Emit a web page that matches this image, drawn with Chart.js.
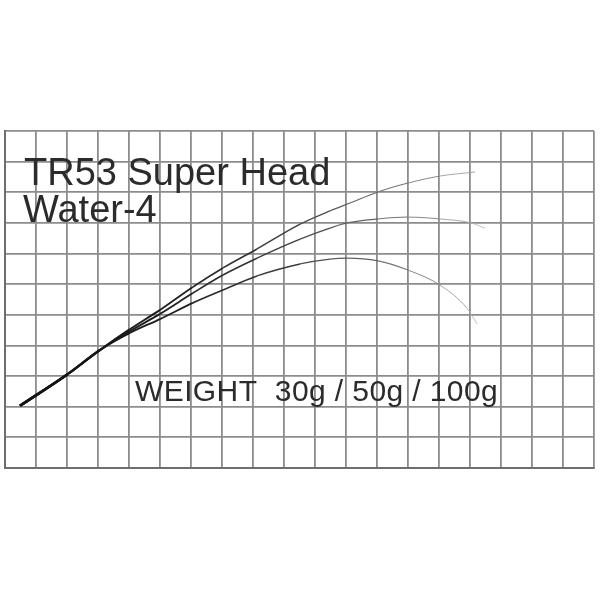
<!DOCTYPE html>
<html>
<head>
<meta charset="utf-8">
<script src="https://cdn.jsdelivr.net/npm/chart.js@4.4.1/dist/chart.umd.min.js"></script>
<style>
html,body{margin:0;padding:0;background:#fff;}
#wrap{width:600px;height:600px;}
</style>
</head>
<body>
<div id="wrap"><canvas id="c" width="600" height="600"></canvas></div>
<script>
// Grid units: 19 columns x 11 rows
const xTicks = [0,1,2,3,4,5,6,7,8,9,10,11,12,13,14,15,16,17,18,19];
const yTicks = [0,1,2,3,4,5,6,7,8,9,10,11];

const titleLines = ["TR53 Super Head", "Water-4"];
const weightLabel = "WEIGHT  30g / 50g / 100g";
const seriesNames = ["30g", "50g", "100g"];

const xs30  = [0.48, 2.03, 3.06, 4.03, 5.0, 6.06, 7.03, 8.13, 9.52, 10.48, 11.13, 12.03, 13.0, 14.03, 15.16];
const ys30  = [2.03, 3.07, 3.85, 4.53, 5.16, 5.91, 6.53, 7.15, 7.96, 8.39, 8.65, 9.01, 9.30, 9.53, 9.66];

const xs50  = [0.48, 2.03, 3.06, 4.03, 5.0, 6.06, 7.03, 8.13, 9.52, 10.48, 11.03, 12.03, 13.0, 14.03, 15.03, 15.48];
const ys50  = [2.03, 3.07, 3.85, 4.47, 5.03, 5.71, 6.30, 6.85, 7.47, 7.83, 8.0, 8.13, 8.19, 8.13, 8.0, 7.83];

const xs100 = [0.48, 2.03, 3.06, 4.03, 5.0, 6.06, 7.03, 8.13, 9.52, 10.48, 11.03, 12.03, 13.0, 14.03, 14.9, 15.23];
const ys100 = [2.03, 3.07, 3.85, 4.41, 4.86, 5.39, 5.81, 6.27, 6.66, 6.82, 6.85, 6.76, 6.46, 5.97, 5.22, 4.70];

function pts(xs, ys){ return xs.map((x,i)=>({x:x, y:ys[i]})); }

function segWidth(ctx){
  const t = Math.min(1, ctx.p0.parsed.x / 15);
  return 2.7 - 1.9 * Math.pow(t, 0.7);
}
function segColor(ctx){
  const t = Math.min(1, ctx.p0.parsed.x / 15.5);
  const v = Math.round(20 + 170 * Math.pow(t, 2.2));
  return `rgb(${v},${v},${v})`;
}

function ds(name, xs, ys){
  return {
    label: name,
    data: pts(xs, ys),
    borderColor: '#222',
    borderWidth: 1.5,
    pointRadius: 0,
    cubicInterpolationMode: 'monotone',
    fill: false,
    segment: { borderWidth: segWidth, borderColor: segColor }
  };
}

const textPlugin = {
  id: 'texts',
  afterDraw(chart){
    const c = chart.ctx;
    c.save();
    c.fillStyle = '#2b2b2b';
    c.textBaseline = 'alphabetic';
    c.textAlign = 'left';
    c.font = '38px "Liberation Sans", Arial, sans-serif';
    c.fillText(titleLines[0], 24, 185);
    c.fillText(titleLines[1], 23, 222);
    c.font = '30px "Liberation Sans", Arial, sans-serif';
    try { c.letterSpacing = '0.4px'; } catch(e) {}
    c.fillText(weightLabel, 135, 401);
    c.restore();
  }
};

new Chart(document.getElementById('c'), {
  type: 'line',
  data: {
    datasets: [ds(seriesNames[0], xs30, ys30), ds(seriesNames[1], xs50, ys50), ds(seriesNames[2], xs100, ys100)]
  },
  options: {
    responsive: false,
    animation: false,
    layout: { padding: { left: 5, right: 6, top: 131, bottom: 132 } },
    plugins: { legend: { display: false }, tooltip: { enabled: false } },
    scales: {
      x: {
        type: 'linear', min: xTicks[0], max: xTicks[xTicks.length-1],
        afterBuildTicks: (s) => { s.ticks = xTicks.map(v => ({value: v})); },
        ticks: { display: false },
        grid: { color: '#8c8c8c', lineWidth: 1.8, drawTicks: false },
        border: { display: true, color: '#6e6e6e', width: 2 }
      },
      y: {
        type: 'linear', min: yTicks[0], max: yTicks[yTicks.length-1],
        afterBuildTicks: (s) => { s.ticks = yTicks.map(v => ({value: v})); },
        ticks: { display: false },
        grid: { color: '#8c8c8c', lineWidth: 1.8, drawTicks: false },
        border: { display: true, color: '#6e6e6e', width: 2 }
      }
    }
  },
  plugins: [textPlugin]
});
</script>
</body>
</html>
